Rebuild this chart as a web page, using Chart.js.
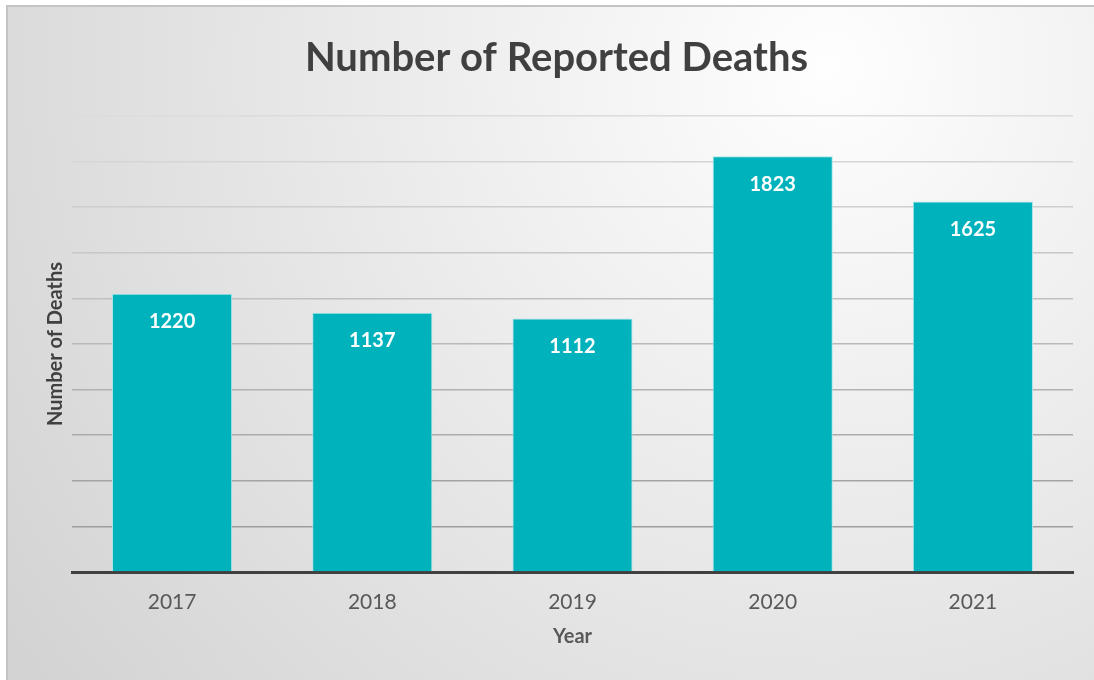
<!DOCTYPE html>
<html>
<head>
<meta charset="utf-8">
<title>Number of Reported Deaths</title>
<script src="https://cdn.jsdelivr.net/npm/chart.js@4/dist/chart.umd.min.js"></script>
<style>
  html, body { margin: 0; padding: 0; background: #fff; overflow: hidden; }
  #wrap {
    position: absolute; left: 6px; top: 5px;
    border-top: 2px solid #c4c4c4; border-left: 2px solid #c4c4c4;
  }
  #chart { display: block; }
</style>
</head>
<body>
<div id="wrap"><canvas id="chart" width="1100" height="673"></canvas></div>
<script>
const years = ['2017', '2018', '2019', '2020', '2021'];
const deaths = [1220, 1137, 1112, 1823, 1625];
const yMax = 2000;
const yStep = 200;

const FONT = 'Lato, "Open Sans", sans-serif';

// soft radial background like the office chart style
const backgroundPlugin = {
  id: 'bg',
  beforeDraw(chart) {
    const { ctx, width, height } = chart;
    const g = ctx.createRadialGradient(820, 60, 0, 820, 60, 1000);
    g.addColorStop(0, '#fefefe');
    g.addColorStop(1, '#d3d3d3');
    ctx.save();
    ctx.fillStyle = g;
    ctx.fillRect(0, 0, width, height);
    ctx.restore();
  }
};

// white value labels inside the top of each bar
const barLabels = {
  id: 'barLabels',
  afterDatasetsDraw(chart) {
    const { ctx } = chart;
    const meta = chart.getDatasetMeta(0);
    ctx.save();
    ctx.fillStyle = '#ffffff';
    ctx.font = 'bold 20px ' + FONT;
    ctx.textAlign = 'center';
    ctx.textBaseline = 'middle';
    meta.data.forEach((bar, i) => {
      ctx.fillText(deaths[i], bar.x, bar.y + 28);
    });
    ctx.restore();
  }
};

function gridColor(value) {
  // darker lines near the baseline, lighter near the top
  const t = Math.min(1, Math.max(0, value / yMax));
  const c = Math.round(150 + (220 - 150) * t);
  return `rgb(${c},${c},${c})`;
}

const ctx = document.getElementById('chart').getContext('2d');
new Chart(ctx, {
  type: 'bar',
  data: {
    labels: years,
    datasets: [{
      data: deaths,
      backgroundColor: '#00b2bc',
      borderColor: '#a6e4e7',
      borderWidth: 1,
      barPercentage: 0.6,
      categoryPercentage: 1.0
    }]
  },
  options: {
    responsive: false,
    animation: false,
    layout: { padding: { left: 32, right: 35, top: 0, bottom: 31 } },
    plugins: {
      legend: { display: false },
      tooltip: { enabled: false },
      title: {
        display: true,
        text: 'Number of Reported Deaths',
        color: '#404040',
        font: { family: FONT, size: 40, weight: 'bold' },
        padding: { top: 27, bottom: 34 }
      }
    },
    scales: {
      x: {
        afterFit(scale) { scale.height = 77; },
        grid: { display: false, drawTicks: false },
        border: { color: '#404040', width: 3 },
        ticks: {
          color: '#595959',
          padding: 18,
          font: { family: FONT, size: 21 }
        },
        title: {
          display: true,
          text: 'Year',
          color: '#595959',
          font: { family: FONT, size: 20, weight: 'bold' },
          padding: { top: 4, bottom: 0 }
        }
      },
      y: {
        min: 0,
        max: yMax,
        afterFit(scale) { scale.width = 32; },
        border: { display: false },
        grid: {
          drawTicks: false,
          lineWidth: 1.5,
          color: c => gridColor(c.tick ? c.tick.value : 0)
        },
        ticks: { display: false, stepSize: yStep },
        title: {
          display: true,
          text: 'Number of Deaths',
          color: '#404040',
          font: { family: FONT, size: 20, weight: 'bold' },
          padding: { top: 4, bottom: 4 }
        }
      }
    }
  },
  plugins: [backgroundPlugin, barLabels]
});
</script>
</body>
</html>
